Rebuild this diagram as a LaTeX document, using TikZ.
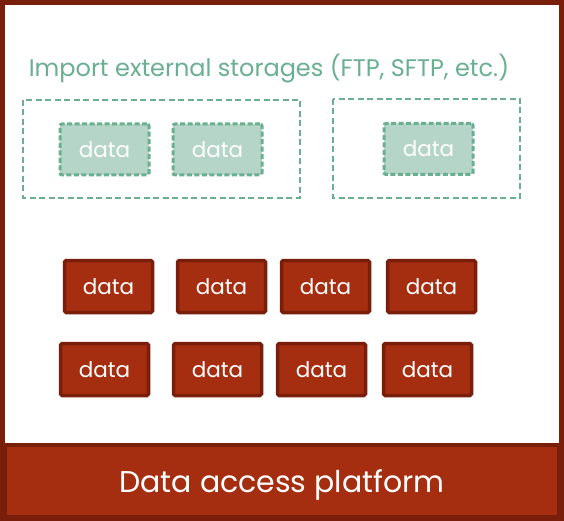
\documentclass[tikz,border=0pt]{standalone}
\usepackage{fontspec}
\setmainfont{Poppins}
\usepackage{xcolor}
\usetikzlibrary{positioning, fit, backgrounds}

\definecolor{frame}{HTML}{7A1E0C}
\definecolor{rust}{HTML}{A52E10}
\definecolor{sea}{HTML}{6BAF92}
\definecolor{seafill}{HTML}{B5D5C8}

\begin{document}
\begin{tikzpicture}[
		x=1pt, y=-1pt,
		redbox/.style={rectangle, draw=frame, line width=3.5pt, fill=rust, rounded corners=1.5pt, minimum width=88pt, minimum height=52pt, text=white, font=\fontsize{21.5}{24}\selectfont},
		greenbox/.style={rectangle, draw=sea, dash pattern=on 5pt off 2.5pt, line width=3pt, fill=seafill, rounded corners=2pt, minimum width=89pt, minimum height=51pt, text=white, font=\fontsize{21.5}{24}\selectfont},
		storage/.style={rectangle, draw=sea, dash pattern=on 6pt off 3.5pt, line width=2.8pt}
		]

		\useasboundingbox (0,0) rectangle (564,521);
		% outer frame and platform bar
		\draw[frame, line width=5pt, fill=white] (2.5,2.5) rectangle (561.5,518.5);
		\node[rectangle, fill=rust, draw=frame, line width=3.5pt, minimum width=554pt, minimum height=72pt, text depth=0pt, text=white, font=\fontsize{30}{36}\selectfont] (platform) at (282,481) {Data access platform};

		% imported storages
		\node[text=sea, font=\fontsize{24}{28}\selectfont] (title) at (269,69) {Import external storages (FTP, SFTP, etc.)};
		\node[greenbox] (g1) at (104.5,149.5) {data};
		\node[greenbox] (g2) at (217.5,149.5) {data};
		\node[greenbox] (g3) at (428.5,149) {data};
		\draw[storage] (23,100) rectangle (300,198);
		\draw[storage] (333,99) rectangle (520,198);

		% local data
		\node[redbox] (d1) at (108.5,286.5) {data};
		\node[redbox] (d2) at (221.5,286.5) {data};
		\node[redbox] (d3) at (325.5,286.5) {data};
		\node[redbox] (d4) at (431.5,286.5) {data};
		\node[redbox] (d5) at (104.5,369.5) {data};
		\node[redbox] (d6) at (217.5,369.5) {data};
		\node[redbox] (d7) at (321.5,369.5) {data};
		\node[redbox] (d8) at (427.5,369.5) {data};
	\end{tikzpicture}
\end{document}
